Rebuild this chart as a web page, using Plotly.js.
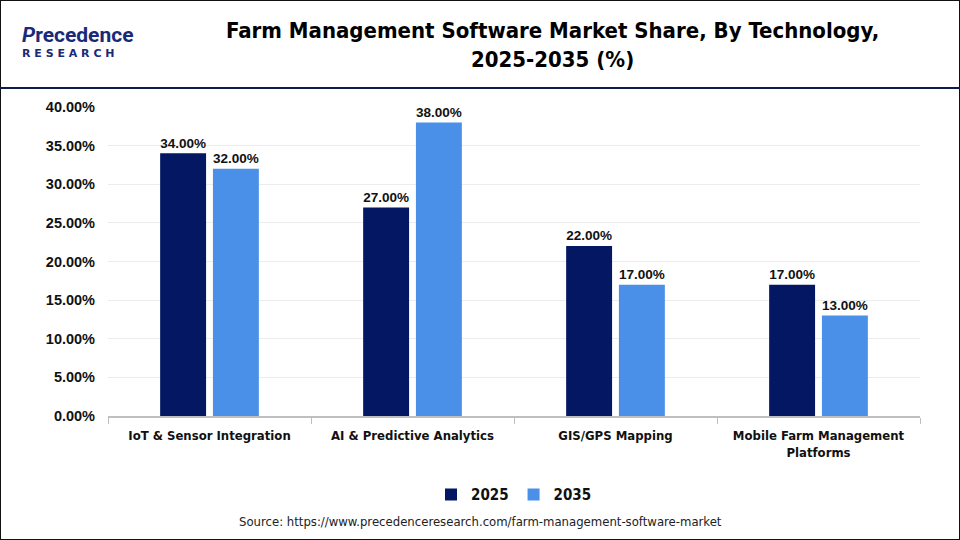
<!DOCTYPE html>
<html><head><meta charset="utf-8">
<script src="https://cdn.plot.ly/plotly-3.0.1.min.js"></script>
<style>html,body{margin:0;padding:0;background:#fff;}#chart{width:960px;height:540px;}</style>
</head><body><div id="chart"></div>
<script>
const categories = ["IoT & Sensor Integration", "AI & Predictive Analytics", "GIS/GPS Mapping", "Mobile Farm Management<br>Platforms"];
const values2025 = [34, 27, 22, 17];
const values2035 = [32, 38, 17, 13];
const yTicks = [0, 5, 10, 15, 20, 25, 30, 35, 40];

const labelFont = {family: "Arial, Liberation Sans, sans-serif", size: 15, color: "#111", weight: "bold"};
const condFont = "DejaVu Sans Condensed, Roboto, sans-serif";

const traces = [
  {type: "bar", name: "2025", x: categories, y: values2025, marker: {color: "#031763"},
   text: values2025.map(v => v.toFixed(2) + "%"), textposition: "outside", cliponaxis: false,
   textfont: labelFont, hoverinfo: "none"},
  {type: "bar", name: "2035", x: categories, y: values2035, marker: {color: "#4a90e8"},
   text: values2035.map(v => v.toFixed(2) + "%"), textposition: "outside", cliponaxis: false,
   textfont: labelFont, hoverinfo: "none"}
];

const layout = {
  width: 960, height: 540,
  margin: {l: 108, r: 40, t: 107, b: 124},
  paper_bgcolor: "#fff", plot_bgcolor: "#fff",
  barmode: "group", bargap: 0.48, bargroupgap: 0.13,
  showlegend: true,
  legend: {orientation: "h", x: 0.5, xanchor: "center", y: -0.255, yanchor: "middle",
    font: {family: condFont, size: 15, color: "#111", weight: "bold"}, itemwidth: 20, traceorder: "normal"},
  xaxis: {type: "category", showgrid: false, showline: true, linecolor: "#bfbfbf", linewidth: 2,
    ticks: "outside", tickcolor: "#bfbfbf", ticklen: 6, tickson: "boundaries",
    tickfont: {family: condFont, size: 13, color: "#111", weight: "bold"}, ticklabelstandoff: 6, fixedrange: true},
  yaxis: {range: [0, 40], tickvals: yTicks, ticktext: yTicks.map(v => v.toFixed(2) + "%"),
    showgrid: true, gridcolor: "#ececec", gridwidth: 1, zeroline: false, showline: false,
    tickfont: {family: "Arial, Liberation Sans, sans-serif", size: 14.5, color: "#111", weight: "bold"},
    ticklabelstandoff: 12, fixedrange: true},
  shapes: [
    {type: "rect", xref: "paper", yref: "paper", x0: -108/812, x1: 1 + 40/812, y0: -124/309, y1: 1 + 107/309,
     line: {color: "#111", width: 2}, fillcolor: "rgba(0,0,0,0)"},
    {type: "line", xref: "paper", yref: "paper", x0: -108/812, x1: 1 + 40/812, y0: 1 + 19/309, y1: 1 + 19/309,
     line: {color: "#0c1a4d", width: 2}}
  ],
  annotations: [
    {text: "Farm Management Software Market Share, By Technology,<br>2025-2035 (%)", xref: "paper", yref: "paper",
     x: (552 - 108) / 812, y: 1 + 62/309, xanchor: "center", yanchor: "middle", showarrow: false,
     font: {family: condFont, size: 22, color: "#000", weight: "bold"}},
    {text: "Source: https://www.precedenceresearch.com/farm-management-software-market", xref: "paper", yref: "paper",
     x: (480 - 108) / 812, y: -(521 - 416) / 309, xanchor: "center", yanchor: "middle", showarrow: false,
     font: {family: condFont, size: 13, color: "#222"}},
    {text: "<b><i>P</i>recedence</b>", xref: "paper", yref: "paper", x: (20 - 108) / 812, y: 1 + (416 - 35) / 309 - 1,
     xanchor: "left", yanchor: "middle", showarrow: false,
     font: {family: "Roboto, sans-serif", size: 21, color: "#1a2a78"}},
    {text: "<b>R E S E A R C H</b>", xref: "paper", yref: "paper", x: (20 - 108) / 812, y: 1 + (416 - 53) / 309 - 1,
     xanchor: "left", yanchor: "middle", showarrow: false,
     font: {family: "DejaVu Sans, sans-serif", size: 11, color: "#1a2a78"}}
  ]
};

Plotly.newPlot("chart", traces, layout, {staticPlot: true, displayModeBar: false});
</script></body></html>
